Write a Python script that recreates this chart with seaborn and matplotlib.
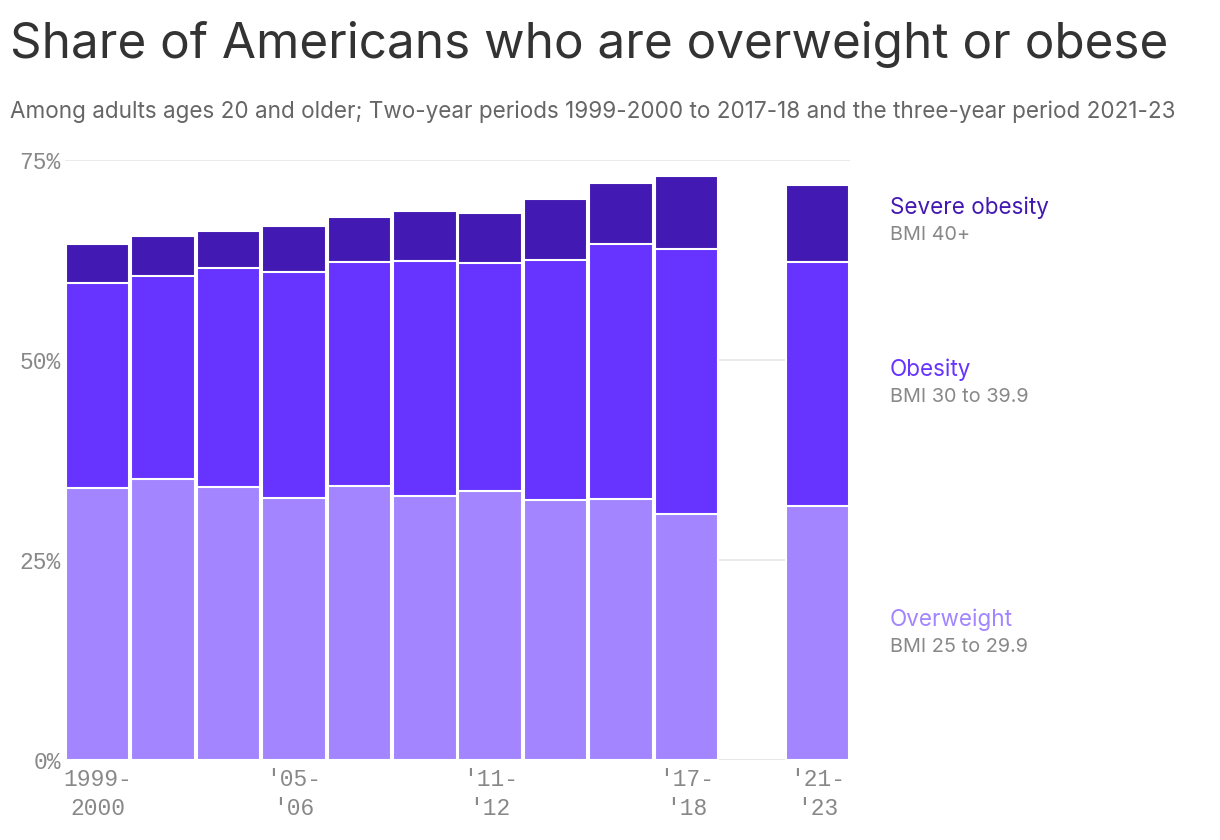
import matplotlib
matplotlib.use("Agg")
import matplotlib.pyplot as plt
import numpy as np
import pandas as pd
import seaborn as sns

# periods, 2019-20 has no data (gap in chart)
periods = ["1999-2000", "2001-02", "2003-04", "2005-06", "2007-08", "2009-10",
           "2011-12", "2013-14", "2015-16", "2017-18", "2019-20", "2021-23"]
data_periods = ["1999-2000", "2001-02", "2003-04", "2005-06", "2007-08", "2009-10",
                "2011-12", "2013-14", "2015-16", "2017-18", "2021-23"]
overweight = [34.0, 35.1, 34.1, 32.8, 34.2, 33.0, 33.6, 32.5, 32.6, 30.8, 31.8]
obesity = [25.6, 25.4, 27.4, 28.2, 28.0, 29.4, 28.5, 30.0, 31.9, 33.1, 30.5]
severe = [4.9, 5.0, 4.6, 5.8, 5.7, 6.2, 6.3, 7.6, 7.6, 9.1, 9.6]

tick_periods = ["1999-2000", "2005-06", "2011-12", "2017-18", "2021-23"]
tick_labels = ["1999-\n2000", "'05-\n'06", "'11-\n'12", "'17-\n'18", "'21-\n'23"]

c_sev = "#4319B3"
c_ob = "#6633FF"
c_ow = "#A385FF"

df = pd.DataFrame({"period": data_periods, "overweight": overweight,
                   "obesity": obesity, "severe": severe})
df["cum_ob"] = df["overweight"] + df["obesity"]
df["cum_sev"] = df["cum_ob"] + df["severe"]

sns.set_style("white")
plt.rcParams["font.family"] = ["Inter", "DejaVu Sans"]

fig = plt.figure(figsize=(12.2, 8.4), dpi=100)
ax = fig.add_axes([65 / 1220, 80 / 840, 785 / 1220, 600 / 840])

for col, colr in [("cum_sev", c_sev), ("cum_ob", c_ob), ("overweight", c_ow)]:
    sns.barplot(data=df, x="period", y=col, order=periods, color=colr,
                width=0.97, edgecolor="white", linewidth=1.5, saturation=1,
                ax=ax, zorder=3)

ax.set_xlim(-0.5, len(periods) - 0.5)
ax.set_ylim(0, 75)
ax.set_yticks([0, 25, 50, 75])
ax.set_yticklabels(["0%", "25%", "50%", "75%"])
ax.grid(axis="y", color="#e6e6e6", linewidth=1.2, zorder=0)
ax.grid(axis="x", visible=False)
for s in ax.spines.values():
    s.set_visible(False)
ax.axhline(0, color="#e6e6e6", linewidth=1.5, zorder=1)

ax.set_xticks([periods.index(p) for p in tick_periods])
ax.set_xticklabels(tick_labels)
ax.set_xticks(np.arange(-0.5, len(periods)), minor=True)
ax.tick_params(axis="x", which="minor", length=3, color="#e6e6e6", width=1)
ax.tick_params(axis="x", which="major", length=0, pad=6)
ax.tick_params(axis="y", length=0, pad=3)
for lab in ax.get_xticklabels() + ax.get_yticklabels():
    lab.set_family(["Liberation Mono", "DejaVu Sans Mono"])
    lab.set_fontsize(16.5)
    lab.set_color("#888888")
for lab in ax.get_xticklabels():
    lab.set_linespacing(1.3)
ax.set_xlabel("")
ax.set_ylabel("")

fig.text(10 / 1220, 1 - 45 / 840, "Share of Americans who are overweight or obese",
         fontsize=35.6, color="#333333", va="center", ha="left")
fig.text(10 / 1220, 1 - 112 / 840,
         "Among adults ages 20 and older; Two-year periods 1999-2000 to 2017-18 and the three-year period 2021-23",
         fontsize=16.2, color="#666666", va="center", ha="left")

lx = 890 / 1220
for (name, sub, colr, y) in [("Severe obesity", "BMI 40+", c_sev, 208),
                             ("Obesity", "BMI 30 to 39.9", c_ob, 370),
                             ("Overweight", "BMI 25 to 29.9", c_ow, 620)]:
    fig.text(lx, 1 - y / 840, name, color=colr, fontsize=16.2, va="center", ha="left")
    fig.text(lx, 1 - (y + 27) / 840, sub, color="#888888", fontsize=14.3,
             va="center", ha="left")

fig.savefig("out.png", dpi=100)
